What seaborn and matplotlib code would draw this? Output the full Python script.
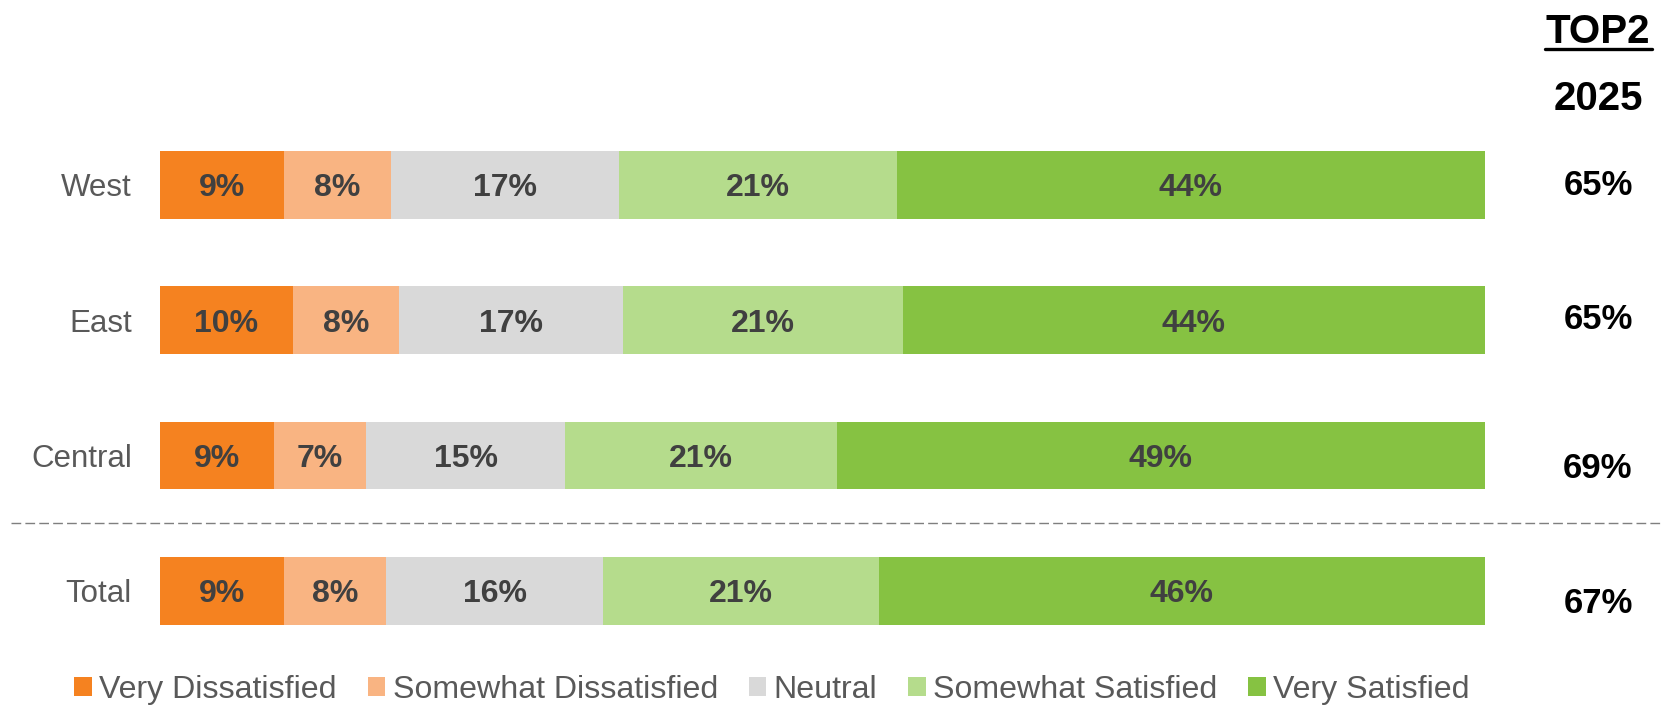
import matplotlib
matplotlib.use("Agg")
import matplotlib.pyplot as plt
import matplotlib.patches as mpatches
from matplotlib.transforms import blended_transform_factory
from matplotlib.lines import Line2D
import numpy as np
import seaborn as sns

# ---- data ----
regions = ["West", "East", "Central", "Total"]
levels = ["Very Dissatisfied", "Somewhat Dissatisfied", "Neutral",
          "Somewhat Satisfied", "Very Satisfied"]
very_dissatisfied = [9.4, 10.05, 8.62, 9.4]
somewhat_dissatisfied = [8.06, 8.02, 6.97, 7.68]
neutral = [17.2, 16.94, 15.0, 16.42]
somewhat_satisfied = [21.01, 21.06, 20.54, 20.8]
very_satisfied = [44.33, 43.94, 48.88, 45.71]
top2 = [65, 65, 69, 67]
top2_header = "TOP2"
year_label = "2025"

colors = ["#F58220", "#F9B482", "#D9D9D9", "#B5DC8C", "#86C242"]

sns.set_theme(style="white")
plt.rcParams["font.family"] = ["Liberation Sans", "DejaVu Sans"]

fig = plt.figure(figsize=(16.65, 7.14), dpi=100)
ax = fig.add_axes([159.6 / 1665, 1 - 672 / 714, 1325 / 1665, (672 - 103.7) / 714])

series = [very_dissatisfied, somewhat_dissatisfied, neutral,
          somewhat_satisfied, very_satisfied]
vals = np.array(series)          # shape (5, 4)
cum = np.cumsum(vals, axis=0)
starts = cum - vals

# draw from the full cumulative down so the earlier segments overlay
for i in range(len(series) - 1, -1, -1):
    sns.barplot(x=cum[i], y=regions, orient="h", color=colors[i],
                saturation=1, width=0.5, ax=ax, linewidth=0, order=regions)

# segment labels
for i in range(len(series)):
    for j, r in enumerate(regions):
        ax.text(starts[i, j] + vals[i, j] / 2, j, f"{round(vals[i, j])}%",
                ha="center", va="center_baseline", fontsize=23,
                fontweight="bold", color="#404040")

ax.set_xlim(0, 100)
ax.set_ylim(3.6, -0.6)
ax.set_xlabel("")
ax.set_ylabel("")
ax.set_xticks([])
ax.tick_params(axis="y", length=0, pad=20, labelsize=22.5, labelcolor="#595959")
for s in ax.spines.values():
    s.set_visible(False)

# TOP2 column
xcol = 1598 / 1665
top2_dy = [-0.02, -0.03, 0.07, 0.065]
tr = blended_transform_factory(fig.transFigure, ax.transData)
for j, v in enumerate(top2):
    ax.text(xcol, j + top2_dy[j], f"{v}%", transform=tr, ha="center",
            va="center_baseline", fontsize=25, fontweight="bold", color="black")

fig.text(xcol, 1 - 28 / 714, top2_header, ha="center", va="center_baseline",
         fontsize=29, fontweight="bold", color="black")
fig.add_artist(Line2D([1545 / 1665, 1652 / 1665], [1 - 49 / 714, 1 - 49 / 714],
                      color="black", linewidth=2.4, transform=fig.transFigure))
fig.text(xcol, 1 - 95 / 714, year_label, ha="center", va="center_baseline",
         fontsize=29, fontweight="bold", color="black")

# dashed separator between regions and total
ax.plot([11 / 1665, 1662 / 1665], [2.5, 2.5], transform=tr, clip_on=False,
        color="#7F7F7F", linewidth=1.0, linestyle=(0, (7, 3)))

# legend
handles = [mpatches.Patch(facecolor=c, edgecolor="none") for c in colors]
leg = fig.legend(handles, levels, loc="center", bbox_to_anchor=(0.4637, 0.034),
                 ncol=5, frameon=False, fontsize=23.1, handlelength=0.54,
                 handleheight=0.54, handletextpad=0.23, columnspacing=0.97,
                 borderpad=0, borderaxespad=0)
for t in leg.get_texts():
    t.set_color("#595959")

fig.savefig("out.png", dpi=100)
